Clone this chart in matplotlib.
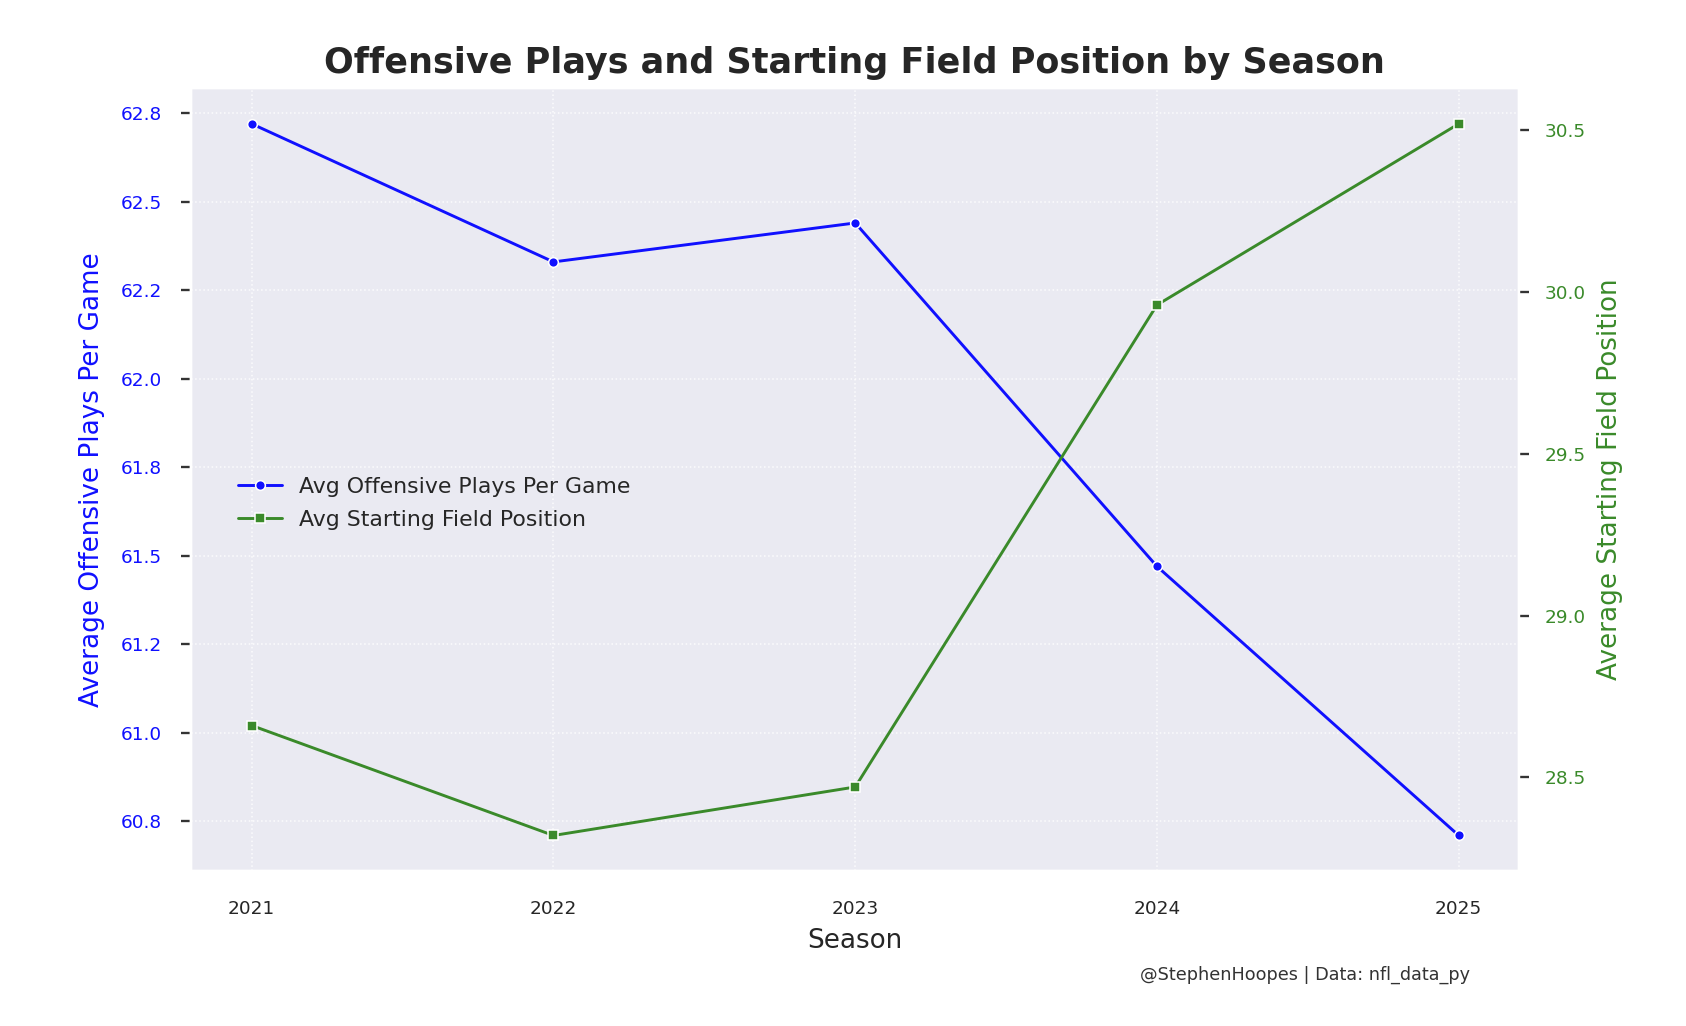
import matplotlib.pyplot as plt
import seaborn as sns

seasons = [2021, 2022, 2023, 2024, 2025]
plays_per_game = [62.72, 62.33, 62.44, 61.47, 60.71]
start_field_pos = [28.66, 28.32, 28.47, 29.96, 30.52]

sns.set_theme(style='darkgrid')
plt.rcParams['grid.linestyle'] = ':'
plt.rcParams['grid.linewidth'] = 0.8
plt.rcParams['grid.alpha'] = 0.8

blue = '#1010ff'
green = '#3a8a2a'

fig = plt.figure(figsize=(1686 / 140, 1026 / 140), dpi=140)
ax1 = fig.add_axes([0.1135, 0.151, 0.7875, 0.763])

ax1.plot(seasons, plays_per_game, color=blue, marker='o', markersize=5,
         markeredgecolor='white', markeredgewidth=0.8, linewidth=1.5,
         label='Avg Offensive Plays Per Game')
ax1.set_xticks(seasons)
ax1.set_xlabel('Season', fontsize=13.5, labelpad=5)
ax1.set_ylabel('Average Offensive Plays Per Game', color=blue, fontsize=13.5,
               labelpad=8)
ax1.yaxis.set_major_locator(plt.MultipleLocator(0.25))
ax1.yaxis.set_major_formatter(plt.FormatStrFormatter('%.1f'))
ax1.tick_params(axis='y', labelcolor=blue, labelsize=9.5, left=True, length=5,
                width=1.2, color='#333333', pad=10)
ax1.tick_params(axis='x', labelsize=9.5, pad=9)

ax2 = ax1.twinx()
ax2.plot(seasons, start_field_pos, color=green, marker='s', markersize=5,
         markeredgecolor='white', markeredgewidth=0.8, linewidth=1.5,
         label='Avg Starting Field Position')
ax2.set_ylabel('Average Starting Field Position', color=green, fontsize=13.5,
               labelpad=6)
ax2.yaxis.set_major_locator(plt.MultipleLocator(0.5))
ax2.yaxis.set_major_formatter(plt.FormatStrFormatter('%.1f'))
ax2.tick_params(axis='y', labelcolor=green, labelsize=9.5, right=True,
                length=5, width=1.2, color='#333333', pad=8)
ax2.grid(False)

h1, l1 = ax1.get_legend_handles_labels()
h2, l2 = ax2.get_legend_handles_labels()
ax1.legend(h1 + h2, l1 + l2, loc='center left', bbox_to_anchor=(0.02, 0.47),
           frameon=False, fontsize=11.3, labelspacing=0.6)

fig.suptitle('Offensive Plays and Starting Field Position by Season',
             fontsize=18, fontweight='bold', color='#262626', x=0.507,
             y=0.939, va='center')
fig.text(0.872, 0.05, '@StephenHoopes | Data: nfl_data_py', ha='right',
         va='center', fontsize=9.1, color='#333333')

fig.savefig('out.png', dpi=140)
